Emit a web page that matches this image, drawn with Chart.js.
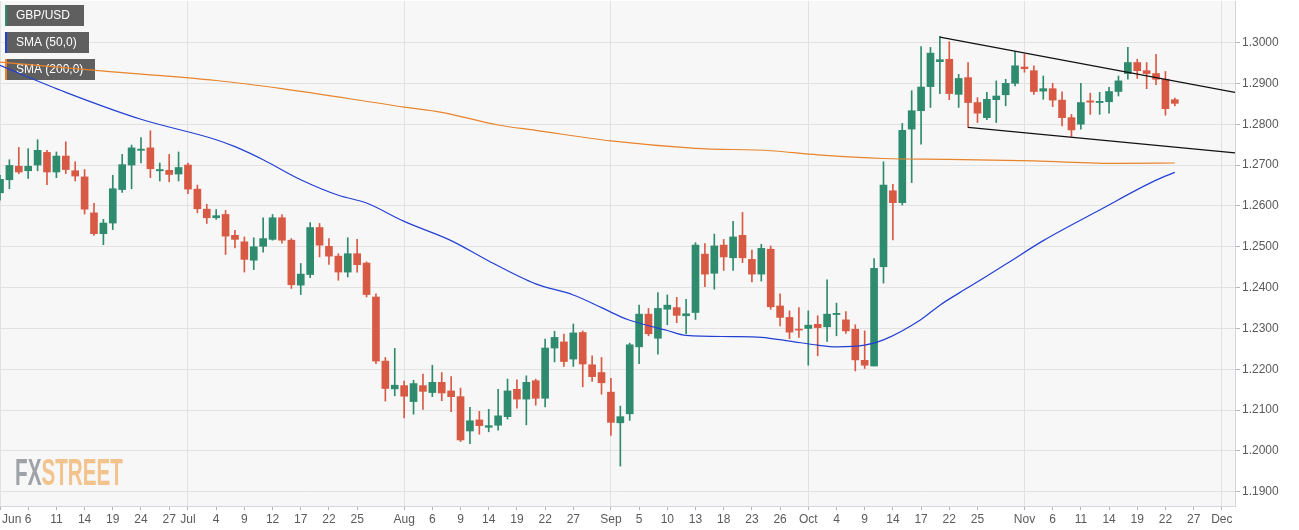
<!DOCTYPE html>
<html>
<head>
<meta charset="utf-8">
<title>GBP/USD daily</title>
<script src="https://cdn.jsdelivr.net/npm/chart.js@4.4.1/dist/chart.umd.min.js"></script>
<style>
    html, body { margin: 0; padding: 0; background: #ffffff; }
    #wrap { width: 1299px; height: 530px; }
</style>
</head>
<body>
<div id="wrap"><canvas id="fxChart" width="1299" height="530"></canvas></div>
<script>
// trading day index 0 = Jun 3 2019, one step per weekday
var opens  = [1.2632, 1.2664, 1.2697, 1.2686, 1.2700, 1.2731, 1.2683, 1.2722, 1.2686, 1.2671,
              1.2583, 1.2532, 1.2558, 1.2640, 1.2700, 1.2736, 1.2742, 1.2686, 1.2687, 1.2678,
              1.2700, 1.2641, 1.2592, 1.2571, 1.2579, 1.2528, 1.2512, 1.2467, 1.2501, 1.2518,
              1.2571, 1.2516, 1.2406, 1.2432, 1.2547, 1.2501, 1.2477, 1.2438, 1.2483, 1.2460,
              1.2377, 1.2220, 1.2152, 1.2160, 1.2121, 1.2160, 1.2143, 1.2168, 1.2147, 1.2133,
              1.2049, 1.2076, 1.2058, 1.2063, 1.2084, 1.2151, 1.2127, 1.2172, 1.2129, 1.2252,
              1.2267, 1.2225, 1.2290, 1.2211, 1.2192, 1.2144, 1.2069, 1.2091, 1.2255, 1.2335,
              1.2276, 1.2347, 1.2351, 1.2331, 1.2339, 1.2482, 1.2435, 1.2504, 1.2473, 1.2528,
              1.2469, 1.2433, 1.2494, 1.2355, 1.2327, 1.2298, 1.2300, 1.2310, 1.2304, 1.2334,
              1.2321, 1.2298, 1.2222, 1.2208, 1.2451, 1.2637, 1.2608, 1.2788, 1.2833, 1.2892,
              1.2953, 1.2959, 1.2873, 1.2914, 1.2853, 1.2816, 1.2860, 1.2872, 1.2900, 1.2940,
              1.2931, 1.2881, 1.2887, 1.2859, 1.2816, 1.2800, 1.2857, 1.2853, 1.2855, 1.2880,
              1.2924, 1.2951, 1.2931, 1.2924, 1.2910, 1.2860];
var highs  = [1.2675, 1.2713, 1.2743, 1.2740, 1.2762, 1.2736, 1.2732, 1.2757, 1.2708, 1.2689,
              1.2606, 1.2567, 1.2675, 1.2726, 1.2749, 1.2767, 1.2784, 1.2705, 1.2726, 1.2732,
              1.2705, 1.2651, 1.2604, 1.2591, 1.2589, 1.2540, 1.2524, 1.2522, 1.2571, 1.2579,
              1.2579, 1.2520, 1.2459, 1.2559, 1.2557, 1.2520, 1.2483, 1.2522, 1.2518, 1.2463,
              1.2385, 1.2229, 1.2251, 1.2171, 1.2173, 1.2188, 1.2210, 1.2192, 1.2182, 1.2154,
              1.2107, 1.2097, 1.2102, 1.2151, 1.2176, 1.2174, 1.2184, 1.2176, 1.2274, 1.2293,
              1.2286, 1.2311, 1.2294, 1.2233, 1.2229, 1.2178, 1.2110, 1.2264, 1.2357, 1.2349,
              1.2388, 1.2382, 1.2376, 1.2371, 1.2510, 1.2508, 1.2531, 1.2518, 1.2562, 1.2584,
              1.2492, 1.2506, 1.2502, 1.2385, 1.2343, 1.2351, 1.2343, 1.2331, 1.2419, 1.2362,
              1.2341, 1.2309, 1.2294, 1.2471, 1.2708, 1.2653, 1.2802, 1.2882, 1.2990, 1.2988,
              1.3015, 1.3002, 1.2922, 1.2951, 1.2865, 1.2878, 1.2906, 1.2910, 1.2978, 1.2971,
              1.2943, 1.2918, 1.2900, 1.2879, 1.2824, 1.2900, 1.2876, 1.2878, 1.2890, 1.2918,
              1.2988, 1.2959, 1.2951, 1.2971, 1.2929, 1.2864];
var lows   = [1.2614, 1.2642, 1.2679, 1.2667, 1.2686, 1.2652, 1.2669, 1.2679, 1.2661, 1.2580,
              1.2528, 1.2505, 1.2542, 1.2633, 1.2642, 1.2705, 1.2669, 1.2661, 1.2659, 1.2661,
              1.2630, 1.2583, 1.2557, 1.2567, 1.2481, 1.2497, 1.2438, 1.2444, 1.2487, 1.2516,
              1.2509, 1.2398, 1.2383, 1.2424, 1.2475, 1.2457, 1.2418, 1.2426, 1.2438, 1.2377,
              1.2214, 1.2122, 1.2135, 1.2081, 1.2090, 1.2102, 1.2133, 1.2123, 1.2096, 1.2023,
              1.2018, 1.2041, 1.2047, 1.2051, 1.2078, 1.2105, 1.2064, 1.2112, 1.2108, 1.2218,
              1.2207, 1.2207, 1.2157, 1.2170, 1.2139, 1.2038, 1.1963, 1.2075, 1.2214, 1.2282,
              1.2237, 1.2309, 1.2314, 1.2287, 1.2322, 1.2402, 1.2396, 1.2442, 1.2442, 1.2461,
              1.2414, 1.2416, 1.2347, 1.2306, 1.2275, 1.2278, 1.2210, 1.2233, 1.2268, 1.2282,
              1.2288, 1.2196, 1.2202, 1.2208, 1.2411, 1.2517, 1.2602, 1.2657, 1.2751, 1.2841,
              1.2875, 1.2860, 1.2841, 1.2792, 1.2804, 1.2811, 1.2804, 1.2845, 1.2894, 1.2927,
              1.2873, 1.2861, 1.2843, 1.2796, 1.2770, 1.2788, 1.2824, 1.2824, 1.2827, 1.2869,
              1.2910, 1.2912, 1.2887, 1.2897, 1.2822, 1.2845];
var closes = [1.2665, 1.2699, 1.2683, 1.2697, 1.2736, 1.2683, 1.2722, 1.2689, 1.2673, 1.2592,
              1.2532, 1.2558, 1.2642, 1.2701, 1.2742, 1.2739, 1.2691, 1.2689, 1.2677, 1.2694,
              1.2641, 1.2593, 1.2571, 1.2576, 1.2526, 1.2518, 1.2469, 1.2500, 1.2520, 1.2571,
              1.2516, 1.2407, 1.2433, 1.2547, 1.2504, 1.2477, 1.2438, 1.2483, 1.2456, 1.2383,
              1.2220, 1.2153, 1.2161, 1.2134, 1.2165, 1.2146, 1.2168, 1.2142, 1.2133, 1.2027,
              1.2074, 1.2062, 1.2062, 1.2086, 1.2147, 1.2127, 1.2168, 1.2129, 1.2252, 1.2278,
              1.2219, 1.2289, 1.2213, 1.2182, 1.2167, 1.2070, 1.2084, 1.2260, 1.2335, 1.2287,
              1.2349, 1.2357, 1.2332, 1.2336, 1.2504, 1.2433, 1.2502, 1.2475, 1.2524, 1.2473,
              1.2433, 1.2496, 1.2353, 1.2327, 1.2291, 1.2296, 1.2308, 1.2302, 1.2335, 1.2337,
              1.2294, 1.2223, 1.2210, 1.2447, 1.2651, 1.2608, 1.2785, 1.2833, 1.2891, 1.2974,
              1.2958, 1.2875, 1.2912, 1.2853, 1.2827, 1.2861, 1.2869, 1.2900, 1.2943, 1.2936,
              1.2880, 1.2887, 1.2859, 1.2816, 1.2786, 1.2853, 1.2854, 1.2856, 1.2880, 1.2906,
              1.2951, 1.2931, 1.2924, 1.2910, 1.2838, 1.2851];

// moving averages at these day indexes
var sma50Days    = [0, 7, 15, 23, 25, 28, 32, 36, 39, 43, 48, 52, 57, 61, 64, 66, 67, 71, 73, 78,
                    81, 84, 87, 89, 92, 94, 98, 100, 103, 107, 111, 117, 123, 125];
var sma50Values  = [1.2944, 1.2878, 1.2812, 1.2762, 1.2745, 1.2713, 1.2664, 1.2626, 1.2607, 1.2562,
                    1.2515, 1.2465, 1.2409, 1.2382, 1.2351, 1.2329, 1.2320, 1.2295, 1.2283, 1.2280,
                    1.2278, 1.2269, 1.2259, 1.2255, 1.2259, 1.2272, 1.2322, 1.2357, 1.2400, 1.2457,
                    1.2515, 1.2590, 1.2663, 1.2682];
var sma200Days   = [0, 12, 23, 30, 43, 47, 53, 57, 65, 74, 82, 87, 94, 101, 110, 119, 125];
var sma200Values = [1.2952, 1.2928, 1.2907, 1.2887, 1.2842, 1.2829, 1.2798, 1.2785, 1.2759, 1.2741,
                    1.2735, 1.2725, 1.2716, 1.2714, 1.2710, 1.2704, 1.2705];

// channel lines
var upperLineDays   = [100, 131.4];
var upperLineValues = [1.3013, 1.2878];
var lowerLineDays   = [103, 131.4];
var lowerLineValues = [1.2792, 1.2730];

// axis labels
var tickDays   = [0, 3, 6, 9, 12, 15, 18, 20, 23, 26, 29, 32, 35, 38, 43, 46, 49, 52, 55, 58, 61,
                  65, 68, 71, 74, 77, 80, 83, 86, 89, 92, 95, 98, 101, 104, 109, 112, 115, 118,
                  121, 124, 127, 130];
var tickLabels = ["Jun", "6", "11", "14", "19", "24", "27", "Jul", "4", "9", "12", "17", "22", "25",
                  "Aug", "6", "9", "14", "19", "22", "27", "Sep", "5", "10", "13", "18", "23", "26",
                  "Oct", "4", "9", "14", "17", "22", "25", "Nov", "6", "11", "14", "19", "22", "27",
                  "Dec"];
var monthDays  = [0, 20, 43, 65, 86, 109, 130];
var priceTicks = [1.19, 1.20, 1.21, 1.22, 1.23, 1.24, 1.25, 1.26, 1.27, 1.28, 1.29, 1.30];

var legendItems = [
    ["GBP/USD", "#2f8b6e", 79],
    ["SMA (50,0)", "#2340d4", 84],
    ["SMA (200,0)", "#e8842c", 90]
];

var upColor = "#2f8b6e";
var downColor = "#d95a44";

var candleColors = opens.map(function (o, i) { return closes[i] >= o ? upColor : downColor; });
var wickData = opens.map(function (o, i) { return { x: i, y: [lows[i], highs[i]] }; });
var bodyData = opens.map(function (o, i) { return { x: i, y: [o, closes[i]] }; });

function toPoints(days, values) {
    return days.map(function (d, i) { return { x: d, y: values[i] }; });
}

var backdrop = {
    id: "backdrop",
    beforeDraw: function (chart) {
        var ctx = chart.ctx, a = chart.chartArea;
        ctx.save();
        ctx.fillStyle = "#f7f7f7";
        ctx.fillRect(a.left, a.top, a.right - a.left, a.bottom - a.top);
        ctx.restore();
    },
    beforeDatasetsDraw: function (chart) {
        var ctx = chart.ctx;
        ctx.save();
        // FXStreet logo
        ctx.font = 'bold 37px "Liberation Sans Narrow", "Liberation Sans", sans-serif';
        ctx.textBaseline = "alphabetic";
        var w1 = ctx.measureText("FX").width, w2 = ctx.measureText("STREET").width;
        ctx.translate(15, 485);
        ctx.scale(108 / (w1 + w2), 1);
        ctx.fillStyle = "#9fa2a6";
        ctx.fillText("FX", 0, 0);
        ctx.fillStyle = "#f2c38d";
        ctx.fillText("STREET", w1, 0);
        ctx.restore();

        // legend boxes
        ctx.save();
        ctx.font = '12px "Liberation Sans", Arial, sans-serif';
        ctx.textBaseline = "middle";
        legendItems.forEach(function (it, i) {
            var y = 5 + i * 27;
            ctx.fillStyle = "#5f5f5f";
            ctx.fillRect(5, y, it[2], 21);
            ctx.fillStyle = it[1];
            ctx.fillRect(5, y, 2, 21);
            ctx.fillStyle = "#ffffff";
            ctx.fillText(it[0], 16, y + 11);
        });
        ctx.restore();
    }
};

var ctx = document.getElementById("fxChart").getContext("2d");
new Chart(ctx, {
    type: "bar",
    data: {
        datasets: [
            {
                label: "wicks",
                data: wickData,
                backgroundColor: candleColors,
                barThickness: 1,
                grouped: false,
                order: 3
            },
            {
                label: "GBP/USD",
                data: bodyData,
                backgroundColor: candleColors,
                barThickness: 7,
                minBarLength: 1,
                grouped: false,
                order: 2
            },
            {
                type: "line",
                label: "SMA (50,0)",
                data: toPoints(sma50Days, sma50Values),
                borderColor: "#2340d4",
                borderWidth: 1.2,
                pointRadius: 0,
                cubicInterpolationMode: "monotone",
                order: 1
            },
            {
                type: "line",
                label: "SMA (200,0)",
                data: toPoints(sma200Days, sma200Values),
                borderColor: "#e8842c",
                borderWidth: 1.2,
                pointRadius: 0,
                cubicInterpolationMode: "monotone",
                order: 1
            },
            {
                type: "line",
                label: "upper",
                data: toPoints(upperLineDays, upperLineValues),
                borderColor: "#111111",
                borderWidth: 1.2,
                pointRadius: 0,
                order: 0
            },
            {
                type: "line",
                label: "lower",
                data: toPoints(lowerLineDays, lowerLineValues),
                borderColor: "#111111",
                borderWidth: 1.2,
                pointRadius: 0,
                order: 0
            }
        ]
    },
    options: {
        responsive: false,
        animation: false,
        devicePixelRatio: 1,
        layout: { padding: { top: 1, left: 0, right: 0, bottom: 0 } },
        plugins: {
            legend: { display: false },
            tooltip: { enabled: false }
        },
        scales: {
            x: {
                type: "linear",
                min: 0,
                max: 131.4,
                offset: false,
                afterBuildTicks: function (s) {
                    s.ticks = tickDays.map(function (v) { return { value: v }; });
                },
                afterFit: function (s) {
                    s.height = 24;
                    s.paddingLeft = 0;
                    s.paddingRight = 0;
                },
                grid: {
                    offset: false,
                    color: function (c) {
                        return c.tick && monthDays.indexOf(c.tick.value) >= 0 ? "#e2e2e2" : "rgba(0,0,0,0)";
                    },
                    tickColor: "#b5b5b5",
                    tickLength: 4
                },
                border: { color: "#d3d6dc" },
                ticks: {
                    autoSkip: false,
                    maxRotation: 0,
                    padding: 2,
                    color: "#5a5a5a",
                    font: { family: '"Liberation Sans", Arial, sans-serif', size: 12 },
                    callback: function (v) {
                        var k = tickDays.indexOf(v);
                        if (k === 0) return "       " + tickLabels[0];
                        return k >= 0 ? tickLabels[k] : "";
                    }
                }
            },
            y: {
                type: "linear",
                position: "right",
                min: 1.18653,
                max: 1.31016,
                afterBuildTicks: function (s) {
                    s.ticks = priceTicks.map(function (v) { return { value: v }; });
                },
                afterFit: function (s) {
                    s.width = 64;
                    s.paddingTop = 0;
                    s.paddingBottom = 0;
                },
                grid: {
                    color: "#e2e2e2",
                    tickColor: "#b5b5b5",
                    tickLength: 5
                },
                border: { color: "#d3d6dc" },
                ticks: {
                    padding: 2,
                    color: "#5a5a5a",
                    font: { family: '"Liberation Sans", Arial, sans-serif', size: 12 },
                    callback: function (v) { return Number(v).toFixed(4); }
                }
            }
        }
    },
    plugins: [backdrop]
});
</script>
</body>
</html>
